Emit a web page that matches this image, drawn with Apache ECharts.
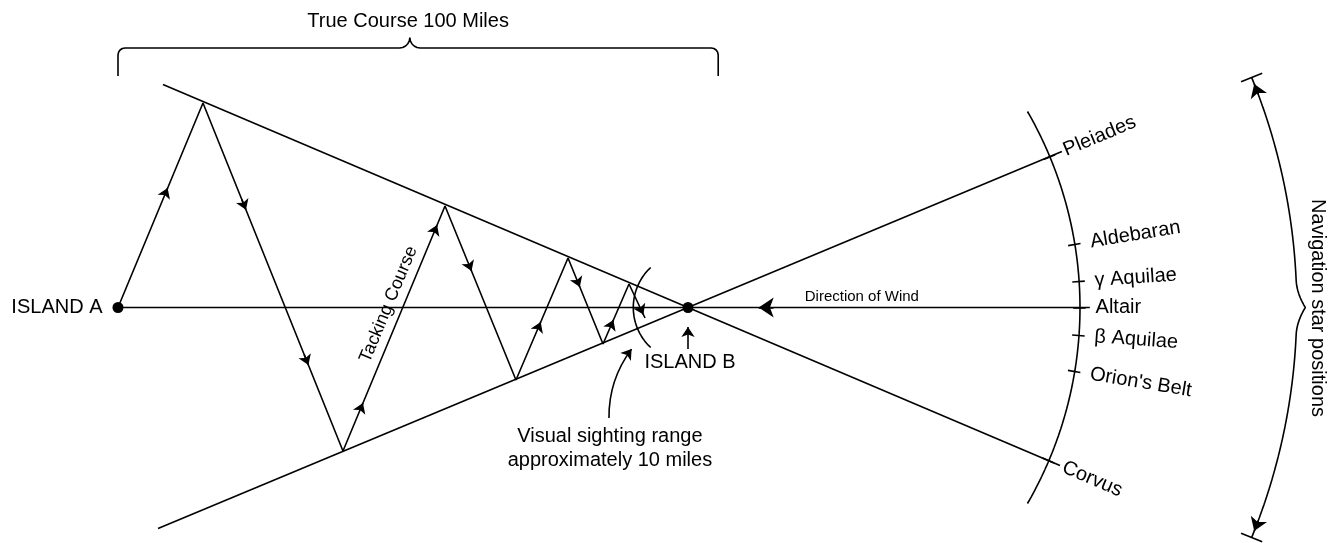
<!DOCTYPE html>
<html><head><meta charset="utf-8">
<script src="https://cdn.jsdelivr.net/npm/echarts@6/dist/echarts.min.js"></script>
<style>html,body{margin:0;padding:0;background:#fff}#c{width:1328px;height:543px}</style>
</head><body><div id="c"></div>
<script>
// ---- diagram data, in miles (Island A at origin, Island B 100 miles east) ----
const islandA = [0, 0];
const islandB = [100, 0];
const tackingCourse = [[0,0],[14.91,35.88],[39.47,-25.18],[57.37,17.81],[69.82,-12.72],[78.95,8.68],[85.09,-6.40],[89.65,4.12],[92.46,-1.84]];
const tackArrowAt = [[0,0.584],[1,0.307],[1,0.753],[2,0.196],[2,0.922],[3,0.374],[4,0.475],[5,0.337],[6,0.40],[7,0.90]];
const upperBearing = [[7.89,39.13],[165.26,-27.72]];
const lowerBearing = [[7.02,-38.77],[165.6,27.36]];
const courseLine = [[0,0],[170.5,0]];
const starNames = ['Pleiades','Aldebaran','\u03b3 Aquilae','Altair','\u03b2 Aquilae',"Orion's Belt",'Corvus'];
const starAngles = [22.6, 9.25, 3.8, 0, -4.1, -9.4, -23];
const starArcRadius = 68.77;
const starArcSpan = [-30, 30];
const starLabelRadius = 71.5;
const sightingRadius = 9.6;
const sightingSpan = [133, 227];
const navArcRadius = 106.8;
const navArcSpan = [-22.2, 22.2];
const bracketSpan = [0, 105.3];
const bracketCusp = 51.2;
const bracketLevels = [40.61, 45.53, 47.35]; // ends, bar, cusp
const texts = {
  title: 'True Course 100 Miles',
  islandA: 'ISLAND A',
  islandB: 'ISLAND B',
  wind: 'Direction of Wind',
  tacking: 'Tacking Course',
  sighting: 'Visual sighting range\napproximately 10 miles',
  nav: 'Navigation star positions'
};

// ---- helpers ----
const deg = Math.PI / 180;
const polar = (c, r, a) => [c[0] + r * Math.cos(a * deg), c[1] + r * Math.sin(a * deg)];
const lerp = (p, q, t) => [p[0] + (q[0] - p[0]) * t, p[1] + (q[1] - p[1]) * t];
function arc(c, r, a0, a1, n, rf) {
  const pts = [];
  for (let i = 0; i <= n; i++) { const a = a0 + (a1 - a0) * i / n; pts.push(polar(c, rf ? rf(a) : r, a)); }
  return pts;
}
const FONT = '"Liberation Sans", Arial, Helvetica, sans-serif';
const INK = '#000';
const LW = 1.6;
const poly = (pts) => ({ type: 'line', data: pts, symbol: 'none', showSymbol: false, clip: false, silent: true, animation: false, lineStyle: { color: INK, width: LW, opacity: 1 }, z: 2 });

// course bracket
const [bx0, bx1] = bracketSpan, [by0, by1, byc] = bracketLevels;
const cr = 1.23, cx = bracketCusp, ch = byc - by1;
const bracket = [[bx0, by0], [bx0, by1 - cr]]
  .concat(arc([bx0 + cr, by1 - cr], cr, 180, 90, 8))
  .concat(arc([cx - ch, by1 + ch], ch, 270, 360, 10))
  .concat(arc([cx + ch, by1 + ch], ch, 180, 270, 10))
  .concat(arc([bx1 - cr, by1 - cr], cr, 90, 0, 8))
  .concat([[bx1, by0]]);

// navigation brace
const navBump = (a) => { const u = Math.max(0, 1 - Math.abs(a) / 2.6); return navArcRadius + 1.5 * u * u; };
const navBrace = arc(islandB, navArcRadius, navArcSpan[1], navArcSpan[0], 400, navBump);

// ticks
const starTicks = starAngles.map(a => ({ coords: [polar(islandB, starArcRadius - 1.2, a), polar(islandB, starArcRadius + 1.0, a)] }));
const navTicks = navArcSpan.map(a => ({ coords: [polar(islandB, navArcRadius - 2, a), polar(islandB, navArcRadius + 2, a)] }));

// arrows
const smallArrows = tackArrowAt.map(([s, t]) => ({ coords: [lerp(tackingCourse[s], tackingCourse[s + 1], t - 0.03), lerp(tackingCourse[s], tackingCourse[s + 1], t)] }));
smallArrows.push({ coords: [[islandB[0], -7.3], [islandB[0], -3.4]] });
const navArrows = [
  { coords: [polar(islandB, navArcRadius, 20.5), polar(islandB, navArcRadius, 21.55)] },
  { coords: [polar(islandB, navArcRadius, -20.5), polar(islandB, navArcRadius, -21.55)] }
];

// tacking label position along leg 2
const p2 = tackingCourse[2], p3 = tackingCourse[3];
const legDir = [p3[0] - p2[0], p3[1] - p2[1]], legLen = Math.hypot(legDir[0], legDir[1]);
const legAngle = Math.atan2(legDir[1], legDir[0]) / deg;
const tackPt = lerp(p2, p3, 0.576);
const tackLabelPos = [tackPt[0] - 2.5 * legDir[1] / legLen, tackPt[1] + 2.5 * legDir[0] / legLen];

const lbl = (extra) => Object.assign({ show: true, color: '#000', opacity: 1, fontFamily: FONT, fontSize: 20 }, extra);
const textItem = (pos, text, extra) => ({ value: pos, label: lbl(Object.assign({ formatter: text, position: 'inside' }, extra)) });
const lineStyle = { color: INK, width: LW, opacity: 1 };

const option = {
  animation: false,
  backgroundColor: '#fff',
  grid: { left: 0, right: 0, top: 0, bottom: 0 },
  xAxis: { type: 'value', min: -118 / 5.7, max: -118 / 5.7 + 1328 / 5.7, show: false },
  yAxis: { type: 'value', min: 307.5 / 5.7 - 543 / 5.7, max: 307.5 / 5.7, show: false },
  series: [
    poly(courseLine), poly(upperBearing), poly(lowerBearing), poly(tackingCourse),
    poly(arc(islandB, starArcRadius, starArcSpan[0], starArcSpan[1], 160)),
    poly(arc(islandB, sightingRadius, sightingSpan[0], sightingSpan[1], 60)),
    poly(navBrace), poly(bracket),
    { type: 'lines', coordinateSystem: 'cartesian2d', data: starTicks.concat(navTicks), symbol: 'none', lineStyle, silent: true, animation: false },
    { type: 'lines', coordinateSystem: 'cartesian2d', data: smallArrows, symbol: ['none', 'arrow'], symbolSize: 10, lineStyle, silent: true, animation: false },
    { type: 'lines', coordinateSystem: 'cartesian2d', data: navArrows, symbol: ['none', 'arrow'], symbolSize: 13, lineStyle, silent: true, animation: false },
    { type: 'lines', coordinateSystem: 'cartesian2d', data: [{ coords: [[115, 0], [112.4, 0]] }], symbol: ['none', 'arrow'], symbolSize: 15, lineStyle, silent: true, animation: false },
    { type: 'lines', coordinateSystem: 'cartesian2d', data: [{ coords: [[86.14, -19.39], [90.1, -7.3]] }], symbol: ['none', 'arrow'], symbolSize: 10, lineStyle: Object.assign({ curveness: 0.17 }, lineStyle), silent: true, animation: false },
    { type: 'scatter', data: [
        { value: islandA, label: lbl({ formatter: texts.islandA, position: 'left', distance: 10 }) },
        { value: islandB }
      ], symbol: 'circle', symbolSize: 11, itemStyle: { color: INK, opacity: 1 }, silent: true, z: 5 },
    { type: 'scatter', symbolSize: 0, itemStyle: { opacity: 1 }, silent: true, z: 6, data: starNames.map((n, i) => ({
        value: polar(islandB, starLabelRadius, starAngles[i]),
        label: lbl({ formatter: n, position: 'right', distance: 0, rotate: starAngles[i], align: 'left', verticalAlign: 'middle' })
      })) },
    { type: 'scatter', symbolSize: 0, itemStyle: { opacity: 1 }, silent: true, z: 6, data: [
        textItem([50.9, 50.26], texts.title),
        textItem([100.35, -9.56], texts.islandB),
        textItem([130.5, 1.84], texts.wind, { fontSize: 15 }),
        textItem(tackLabelPos, texts.tacking, { rotate: legAngle, fontSize: 18 }),
        textItem([86.3, -24.8], texts.sighting, { lineHeight: 24, align: 'center' }),
        textItem([210.5, -0.1], texts.nav, { rotate: -90 })
      ] }
  ]
};
const chart = echarts.init(document.getElementById('c'));
chart.setOption(option);
</script></body></html>
